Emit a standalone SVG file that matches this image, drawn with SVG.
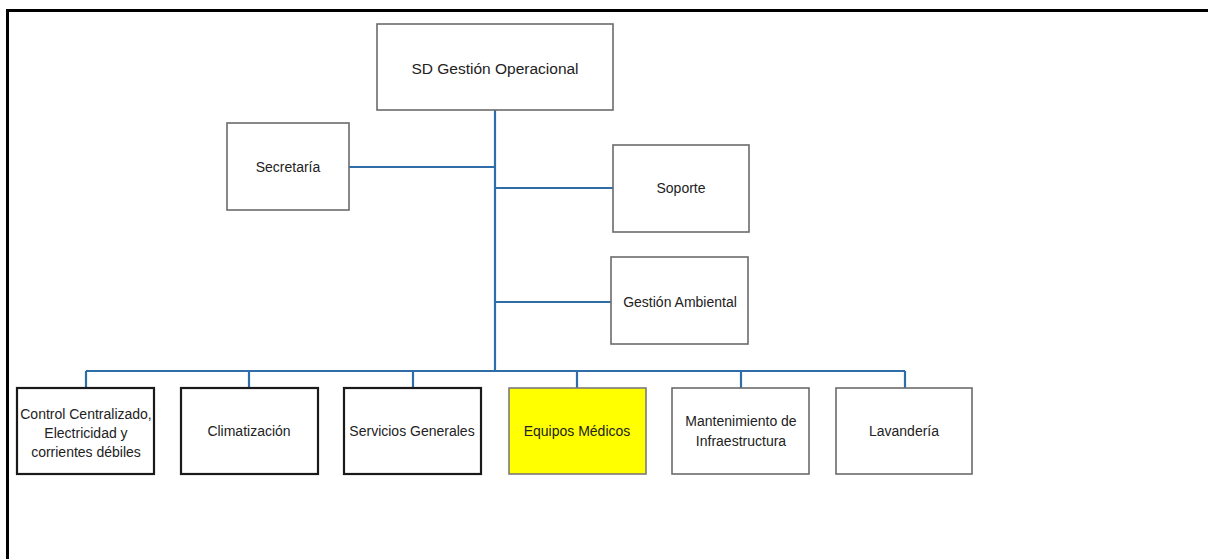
<svg xmlns="http://www.w3.org/2000/svg" width="1208" height="559" viewBox="0 0 1208 559">
<style>
.box{fill:#fff;stroke:#6b6b6b;stroke-width:1.6}
.dark{stroke:#1a1a1a;stroke-width:2.2}
.hl{fill:#ffff00;stroke:#7a7a7a;stroke-width:1.6}
.t{font-family:"Liberation Sans",Arial,sans-serif;font-size:14px;fill:#222;text-anchor:middle;dominant-baseline:central}
.big{font-size:15.5px}
.conn{fill:none;stroke:#2e6da8;stroke-width:2.2}
</style>
<rect x="7.5" y="10.5" width="1210" height="560" fill="none" stroke="#000" stroke-width="3"/>
<g id="connectors" class="conn">
<path d="M495 110V371"/>
<path d="M349 167H495"/>
<path d="M495 188H613"/>
<path d="M495 302H611"/>
<path d="M86 371H905"/>
<path d="M86 371V388M249 371V388M413 371V388M577 371V388M741 371V388M905 371V388"/>
</g>
<g id="n-sd"><rect class="box" x="377" y="24" width="236" height="86"/><text class="t big" x="495" y="68">SD Gestión Operacional</text></g>
<g id="n-secretaria"><rect class="box" x="227" y="123" width="122" height="87"/><text class="t" x="288" y="167">Secretaría</text></g>
<g id="n-soporte"><rect class="box" x="613" y="145" width="136" height="87"/><text class="t" x="681" y="188">Soporte</text></g>
<g id="n-ambiental"><rect class="box" x="611" y="257" width="137" height="87"/><text class="t" x="680" y="302">Gestión Ambiental</text></g>
<g id="n-control"><rect class="box dark" x="17" y="388" width="137" height="86"/><text class="t" x="86"><tspan x="86" y="414">Control Centralizado,</tspan><tspan x="86" y="433">Electricidad y</tspan><tspan x="86" y="452">corrientes débiles</tspan></text></g>
<g id="n-clima"><rect class="box dark" x="181" y="388" width="137" height="86"/><text class="t" x="249" y="431">Climatización</text></g>
<g id="n-servicios"><rect class="box dark" x="344" y="388" width="137" height="86"/><text class="t" x="412" y="431">Servicios Generales</text></g>
<g id="n-equipos"><rect class="hl" x="509" y="388" width="137" height="86"/><text class="t" x="577" y="431">Equipos Médicos</text></g>
<g id="n-mant"><rect class="box" x="672" y="388" width="137" height="86"/><text class="t" x="741"><tspan x="741" y="421">Mantenimiento de</tspan><tspan x="741" y="441">Infraestructura</tspan></text></g>
<g id="n-lav"><rect class="box" x="836" y="388" width="136" height="86"/><text class="t" x="904" y="431">Lavandería</text></g>
</svg>
